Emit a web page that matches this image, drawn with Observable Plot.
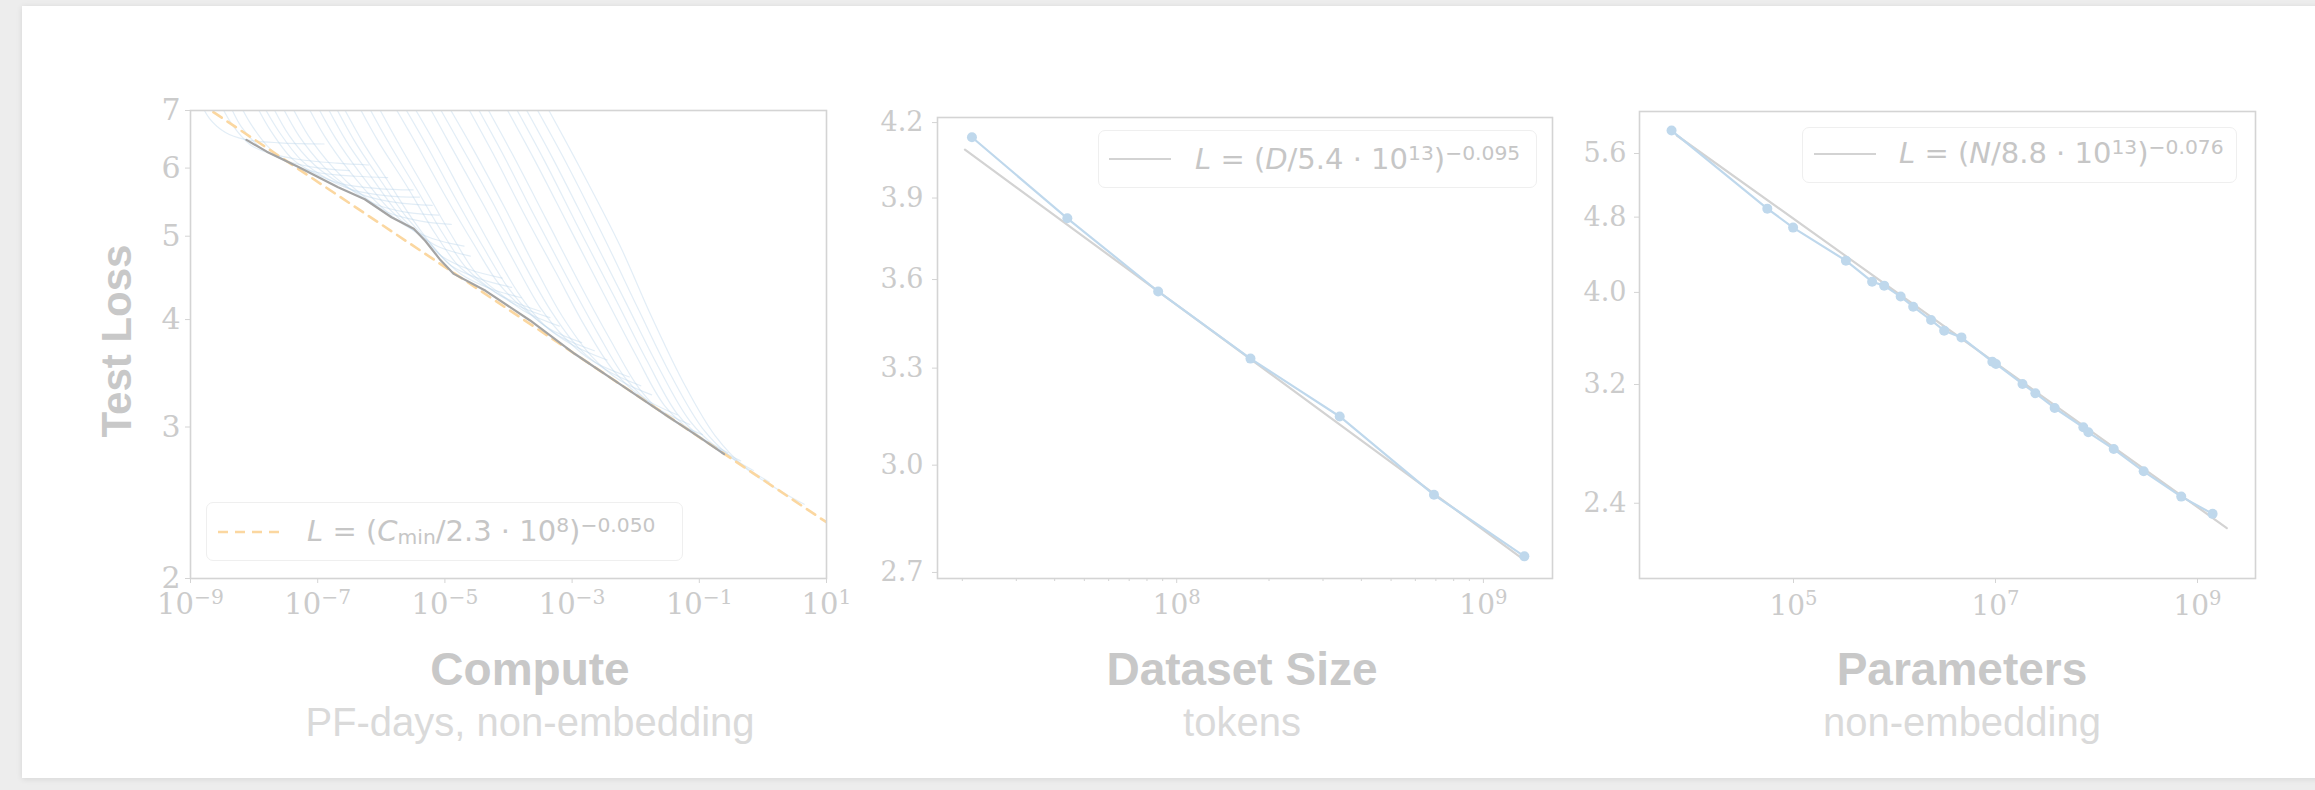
<!DOCTYPE html>
<html><head><meta charset="utf-8">
<script src="https://cdn.jsdelivr.net/npm/d3@7"></script>
<script src="https://cdn.jsdelivr.net/npm/@observablehq/plot@0.6"></script>
<style>
html,body{margin:0;padding:0;}
body{background:#ededed;width:2315px;height:790px;overflow:hidden;position:relative;font-family:"Liberation Sans",Arial,sans-serif;}
#card{position:absolute;left:22px;top:6px;width:2310px;height:772px;background:#fff;box-shadow:0 1px 6px rgba(0,0,0,0.10);}
.pc{position:absolute;}
.title{position:absolute;font-weight:bold;font-size:46px;line-height:1;color:#c8c8c8;transform:translateX(-50%);white-space:nowrap;}
.sub{position:absolute;font-size:40px;line-height:1;color:#dadada;transform:translateX(-50%);white-space:nowrap;}
.ylab{position:absolute;font-weight:bold;font-size:42px;line-height:1;color:#c8c8c8;white-space:nowrap;transform:translate(-50%,-50%) rotate(-90deg);}
.lbox{position:absolute;border:1.5px solid #efefef;border-radius:7px;background:rgba(255,255,255,0.85);box-sizing:border-box;}
.ltxt{position:absolute;font-family:"DejaVu Sans";font-size:29px;line-height:1;color:#c6c6c6;white-space:nowrap;}
.ltxt i{font-style:italic;}
.ltxt sup{font-size:0.7em;position:relative;top:-0.42em;vertical-align:baseline;line-height:0;}
.ltxt sub{font-size:0.7em;position:relative;top:0.17em;vertical-align:baseline;line-height:0;}
</style></head><body>
<div id="card"></div>
<div id="p1" class="pc" style="left:90px;top:60px;width:800px;height:600px"></div>
<div id="p2" class="pc" style="left:850px;top:60px;width:750px;height:600px"></div>
<div id="p3" class="pc" style="left:1560px;top:60px;width:740px;height:600px"></div>
<div id="overlay"></div>
<script>
// ---------------- data ----------------
// Panel 1: learning curves, [log10 compute (PF-days), test loss]
const learningCurves = [
 [[-8.90,7.30],[-8.70,6.85],[-8.45,6.60],[-8.15,6.48],[-7.60,6.42],[-6.90,6.40]],
 [[-8.60,7.30],[-8.35,6.75],[-8.05,6.38],[-7.75,6.24],[-7.30,6.14],[-6.70,6.08],[-6.20,6.05]],
 [[-8.45,7.30],[-8.20,6.70],[-7.90,6.34],[-7.55,6.14],[-7.10,6.02],[-6.50,5.96]],
 [[-8.30,7.30],[-8.05,6.75],[-7.75,6.32],[-7.40,6.06],[-7.00,5.93],[-6.40,5.87],[-5.90,5.85]],
 [[-8.05,7.30],[-7.75,6.65],[-7.40,6.15],[-7.05,5.92],[-6.65,5.76],[-6.05,5.68],[-5.50,5.66]],
 [[-7.95,7.30],[-7.60,6.60],[-7.25,6.12],[-6.85,5.83],[-6.45,5.66],[-5.90,5.57],[-5.40,5.55]],
 [[-7.80,7.30],[-7.45,6.55],[-7.05,6.05],[-6.65,5.76],[-6.25,5.57],[-5.75,5.47],[-5.20,5.43]],
 [[-7.65,7.30],[-7.30,6.55],[-6.90,6.02],[-6.50,5.68],[-6.10,5.45],[-5.60,5.33],[-5.10,5.29]],
 [[-7.50,7.30],[-7.15,6.55],[-6.75,6.00],[-6.35,5.62],[-5.90,5.33],[-5.40,5.21],[-4.90,5.16]],
 [[-7.25,7.30],[-6.90,6.55],[-6.50,5.95],[-6.10,5.50],[-5.65,5.16],[-5.20,4.97],[-4.70,4.87]],
 [[-7.10,7.30],[-6.72,6.50],[-6.32,5.90],[-5.92,5.42],[-5.50,5.08],[-5.10,4.86],[-4.60,4.74]],
 [[-6.95,7.30],[-6.55,6.45],[-6.15,5.85],[-5.75,5.33],[-5.40,5.02],[-5.05,4.74],[-4.60,4.57],[-4.10,4.47]],
 [[-6.82,7.30],[-6.42,6.45],[-6.02,5.82],[-5.62,5.28],[-5.25,4.92],[-4.90,4.62],[-4.45,4.46],[-3.95,4.36]],
 [[-6.70,7.30],[-6.30,6.45],[-5.90,5.80],[-5.50,5.22],[-5.10,4.78],[-4.75,4.52],[-4.30,4.35],[-3.80,4.24]],
 [[-6.45,7.30],[-6.05,6.45],[-5.60,5.72],[-5.20,5.10],[-4.80,4.63],[-4.45,4.42],[-4.00,4.22],[-3.50,4.09]],
 [[-6.30,7.30],[-5.90,6.45],[-5.45,5.68],[-5.05,5.06],[-4.65,4.58],[-4.28,4.34],[-3.85,4.15],[-3.35,4.02]],
 [[-6.15,7.30],[-5.75,6.45],[-5.30,5.65],[-4.90,5.02],[-4.50,4.52],[-4.10,4.27],[-3.70,4.07],[-3.20,3.93]],
 [[-5.90,7.30],[-5.45,6.40],[-5.00,5.58],[-4.55,4.90],[-4.15,4.40],[-3.75,4.11],[-3.35,3.90],[-2.85,3.76]],
 [[-5.75,7.30],[-5.30,6.40],[-4.85,5.56],[-4.40,4.86],[-4.00,4.35],[-3.60,4.03],[-3.18,3.82],[-2.65,3.68]],
 [[-5.60,7.30],[-5.15,6.40],[-4.70,5.55],[-4.25,4.83],[-3.85,4.30],[-3.45,3.95],[-3.00,3.74],[-2.45,3.59]],
 [[-5.35,7.30],[-4.90,6.35],[-4.40,5.45],[-3.95,4.73],[-3.50,4.13],[-3.10,3.80],[-2.65,3.57],[-2.10,3.43]],
 [[-5.20,7.30],[-4.72,6.32],[-4.22,5.42],[-3.78,4.68],[-3.32,4.08],[-2.90,3.71],[-2.45,3.49],[-1.92,3.35]],
 [[-5.05,7.30],[-4.55,6.30],[-4.05,5.38],[-3.60,4.63],[-3.15,4.03],[-2.70,3.63],[-2.25,3.40],[-1.75,3.27]],
 [[-4.75,7.30],[-4.25,6.25],[-3.75,5.30],[-3.25,4.53],[-2.80,3.93],[-2.35,3.49],[-1.90,3.25],[-1.35,3.10]],
 [[-4.60,7.30],[-4.10,6.25],[-3.58,5.26],[-3.08,4.48],[-2.60,3.86],[-2.15,3.41],[-1.70,3.17],[-1.15,3.02]],
 [[-4.45,7.30],[-3.95,6.25],[-3.40,5.22],[-2.90,4.43],[-2.40,3.79],[-1.95,3.33],[-1.50,3.08],[-0.95,2.94]],
 [[-4.15,7.30],[-3.60,6.15],[-3.05,5.13],[-2.50,4.28],[-2.00,3.64],[-1.55,3.18],[-1.10,2.96],[-0.55,2.80]],
 [[-4.00,7.30],[-3.45,6.15],[-2.88,5.08],[-2.32,4.23],[-1.82,3.58],[-1.35,3.11],[-0.90,2.89],[-0.35,2.74]],
 [[-3.85,7.30],[-3.30,6.15],[-2.70,5.03],[-2.15,4.18],[-1.65,3.53],[-1.15,3.05],[-0.70,2.83],[-0.15,2.67]],
 [[-3.68,7.30],[-3.10,6.10],[-2.48,4.95],[-1.95,4.10],[-1.45,3.45],[-0.95,2.99],[-0.48,2.76],[0.10,2.59]],
 [[-3.50,7.30],[-2.90,6.05],[-2.25,4.88],[-1.75,4.03],[-1.25,3.38],[-0.75,2.93],[-0.25,2.68],[0.35,2.51],[0.65,2.44]]
];
const frontierLogC = [-8.12,-7.80,-7.31,-6.68,-6.26,-5.84,-5.49,-5.31,-5.07,-4.86,-4.36,-3.66,-2.96,-2.26,-1.56,-1.00,-0.61];
const frontierLoss = [6.47,6.27,6.02,5.70,5.52,5.26,5.10,4.94,4.69,4.52,4.32,3.99,3.65,3.37,3.11,2.92,2.79];
const computeFitLogC = [-8.64, 1.0];
const computeFitLoss = [6.97, 2.325];
const computeTicks = [1e-9,1e-7,1e-5,1e-3,1e-1,1e1];
const computeTickLabels = ["10^−9","10^−7","10^−5","10^−3","10^−1","10^1"];
const lossTicks1 = [2,3,4,5,6,7];

// Panel 2: dataset size (tokens) vs test loss
const datasetTokens = [2.15e7, 4.4e7, 8.7e7, 1.74e8, 3.4e8, 6.9e8, 1.36e9];
const datasetLoss = [4.14, 3.823, 3.558, 3.331, 3.147, 2.914, 2.743];
const datasetFitTokens = [2.04e7, 1.35e9];
const datasetFitLoss = [4.09, 2.735];
const datasetTicks = [1e8, 1e9];
const datasetTickLabels = ["10^8", "10^9"];
const datasetMinorTicks = [2e7,3e7,4e7,5e7,6e7,7e7,8e7,9e7,2e8,3e8,4e8,5e8,6e8,7e8,8e8,9e8];
const lossTicks2 = [2.7,3.0,3.3,3.6,3.9,4.2];

// Panel 3: parameters (non-embedding) vs test loss
const paramCount = [6.2e3,5.5e4,9.9e4,3.3e5,6.0e5,7.9e5,1.15e6,1.53e6,2.3e6,3.1e6,4.6e6,9.3e6,1.01e7,1.85e7,2.48e7,3.85e7,7.4e7,8.3e7,1.48e8,2.93e8,6.9e8,1.41e9];
const paramLoss = [5.92,4.90,4.68,4.32,4.105,4.066,3.96,3.864,3.741,3.646,3.587,3.382,3.363,3.204,3.133,3.023,2.885,2.85,2.737,2.593,2.439,2.339];
const paramFitCount = [7e3, 1.95e9];
const paramFitLoss = [5.85, 2.26];
const paramTicks = [1e5, 1e7, 1e9];
const paramTickLabels = ["10^5", "10^7", "10^9"];
const lossTicks3 = [2.4,3.2,4.0,4.8,5.6];

// ---------------- styling constants ----------------
const TXT = "#cbcbcb", FRAME = "#d4d4d4", BLUE = "#bfd8ec", CURVE = "#b9d3e9", FITG = "#d3d3d3";

// ---------------- tables ----------------
const curveRows = learningCurves.flatMap((c, k) => c.map(([e, l]) => ({run: k, C: Math.pow(10, e), L: l})));
const frontierRows = frontierLogC.map((e, i) => ({C: Math.pow(10, e), L: frontierLoss[i]}));
const fit1Rows = computeFitLogC.map((e, i) => ({C: Math.pow(10, e), L: computeFitLoss[i]}));
const dataRows = datasetTokens.map((d, i) => ({D: d, L: datasetLoss[i]}));
const fit2Rows = datasetFitTokens.map((d, i) => ({D: d, L: datasetFitLoss[i]}));
const paramRows = paramCount.map((n, i) => ({N: n, L: paramLoss[i]}));
const fit3Rows = paramFitCount.map((n, i) => ({N: n, L: paramFitLoss[i]}));

function lab(ticks, labels) { const m = new Map(ticks.map((t, i) => [t, labels[i]])); return d => m.get(d) ?? ""; }

function supLabels(svg, fs) {
  d3.select(svg).selectAll('g[aria-label="x-axis tick label"] text').each(function () {
    const t = this.textContent;
    if (!t.includes("^")) return;
    const [b, e] = t.split("^");
    const s = d3.select(this);
    s.text(null);
    s.append("tspan").text(b);
    s.append("tspan").attr("dy", -0.36 * fs).attr("font-size", fs * 0.7).text(e);
  });
}

const baseStyle = {background: "transparent", overflow: "visible", maxWidth: "none", fontFamily: "DejaVu Serif", fontSize: "28px"};

// ---------------- panel 1 ----------------
const p1 = Plot.plot({
  width: 800, height: 600, marginLeft: 100, marginRight: 64, marginTop: 50, marginBottom: 82,
  style: baseStyle,
  x: {type: "log", domain: [1e-9, 10]},
  y: {type: "log", domain: [2, 7]},
  marks: [
    Plot.line(curveRows, {x: "C", y: "L", z: "run", stroke: CURVE, strokeOpacity: 0.42, strokeWidth: 1.2, curve: "catmull-rom", clip: true}),
    Plot.line(fit1Rows, {x: "C", y: "L", stroke: "#fbd7a0", strokeWidth: 2.6, strokeDasharray: "10,7", clip: true}),
    Plot.line(frontierRows, {x: "C", y: "L", stroke: "#a4a4a4", strokeWidth: 2.2}),
    Plot.frame({stroke: FRAME, strokeWidth: 1.6}),
    Plot.axisX({ticks: computeTicks, tickFormat: lab(computeTicks, computeTickLabels), tickSize: 5, tickPadding: 10, stroke: FRAME, fill: TXT, fontSize: 29, fontFamily: "DejaVu Serif", label: null}),
    Plot.axisY({ticks: lossTicks1, tickFormat: d => String(d), tickSize: 5, tickPadding: 5, stroke: FRAME, fill: TXT, fontSize: 30, fontFamily: "DejaVu Serif", label: null})
  ]
});
supLabels(p1, 29);
document.getElementById("p1").appendChild(p1);

// ---------------- panel 2 ----------------
const p2 = Plot.plot({
  width: 750, height: 600, marginLeft: 87, marginRight: 48, marginTop: 57, marginBottom: 82,
  style: baseStyle,
  x: {type: "log", domain: [1.66e7, 1.68e9]},
  y: {type: "log", domain: [2.684, 4.221]},
  marks: [
    Plot.line(fit2Rows, {x: "D", y: "L", stroke: FITG, strokeWidth: 2.2}),
    Plot.line(dataRows, {x: "D", y: "L", stroke: BLUE, strokeWidth: 2.2}),
    Plot.dot(dataRows, {x: "D", y: "L", r: 5, fill: BLUE}),
    Plot.frame({stroke: FRAME, strokeWidth: 1.6}),
    Plot.axisX({ticks: datasetMinorTicks, tickFormat: () => "", tickSize: 3, stroke: FRAME, label: null}),
    Plot.axisX({ticks: datasetTicks, tickFormat: lab(datasetTicks, datasetTickLabels), tickSize: 5, tickPadding: 11, stroke: FRAME, fill: TXT, fontSize: 28, fontFamily: "DejaVu Serif", label: null}),
    Plot.axisY({ticks: lossTicks2, tickFormat: d3.format(".1f"), tickSize: 5, tickPadding: 9, stroke: FRAME, fill: TXT, fontSize: 27, fontFamily: "DejaVu Serif", label: null})
  ]
});
supLabels(p2, 28);
document.getElementById("p2").appendChild(p2);

// ---------------- panel 3 ----------------
const p3 = Plot.plot({
  width: 740, height: 600, marginLeft: 79, marginRight: 45, marginTop: 51, marginBottom: 82,
  style: baseStyle,
  x: {type: "log", domain: [2985, 3.75e9]},
  y: {type: "log", domain: [2.0, 6.2]},
  marks: [
    Plot.line(fit3Rows, {x: "N", y: "L", stroke: FITG, strokeWidth: 2.2}),
    Plot.line(paramRows, {x: "N", y: "L", stroke: BLUE, strokeWidth: 2.2}),
    Plot.dot(paramRows, {x: "N", y: "L", r: 5, fill: BLUE}),
    Plot.frame({stroke: FRAME, strokeWidth: 1.6}),
    Plot.axisX({ticks: paramTicks, tickFormat: lab(paramTicks, paramTickLabels), tickSize: 5, tickPadding: 12, stroke: FRAME, fill: TXT, fontSize: 28, fontFamily: "DejaVu Serif", label: null}),
    Plot.axisY({ticks: lossTicks3, tickFormat: d3.format(".1f"), tickSize: 5, tickPadding: 8, stroke: FRAME, fill: TXT, fontSize: 27, fontFamily: "DejaVu Serif", label: null})
  ]
});
supLabels(p3, 28);
document.getElementById("p3").appendChild(p3);

// ---------------- titles & legends ----------------
const titles = ["Compute", "Dataset Size", "Parameters"];
const subtitles = ["PF-days, non-embedding", "tokens", "non-embedding"];
const titleX = [530, 1242, 1962];
const ov = document.getElementById("overlay");
let html = "";
titles.forEach((t, i) => {
  html += `<div class="title" style="left:${titleX[i]}px;top:646px">${t}</div>`;
  html += `<div class="sub" style="left:${titleX[i]}px;top:702px">${subtitles[i]}</div>`;
});
html += `<div class="ylab" style="left:117px;top:341px">Test Loss</div>`;
html += `<div class="lbox" style="left:206px;top:502px;width:477px;height:59px"></div>`;
html += `<div class="lbox" style="left:1098px;top:130px;width:439px;height:58px"></div>`;
html += `<div class="lbox" style="left:1802px;top:127px;width:435px;height:56px"></div>`;
html += `<svg style="position:absolute;left:0;top:0;overflow:visible" width="2315" height="790">
  <line x1="218" x2="282" y1="532" y2="532" stroke="#fbd7a0" stroke-width="2.6" stroke-dasharray="10,7"/>
  <line x1="1109" x2="1171" y1="159" y2="159" stroke="${FITG}" stroke-width="2.2"/>
  <line x1="1814" x2="1876" y1="154" y2="154" stroke="${FITG}" stroke-width="2.2"/>
</svg>`;
html += `<div class="ltxt" style="left:307px;top:517px"><i>L</i> = (<i>C</i><sub>min</sub>/2.3 · 10<sup>8</sup>)<sup>−0.050</sup></div>`;
html += `<div class="ltxt" style="left:1195px;top:145px"><i>L</i> = (<i>D</i>/5.4 · 10<sup>13</sup>)<sup>−0.095</sup></div>`;
html += `<div class="ltxt" style="left:1899px;top:139px"><i>L</i> = (<i>N</i>/8.8 · 10<sup>13</sup>)<sup>−0.076</sup></div>`;
ov.innerHTML = html;
</script>
</body></html>
